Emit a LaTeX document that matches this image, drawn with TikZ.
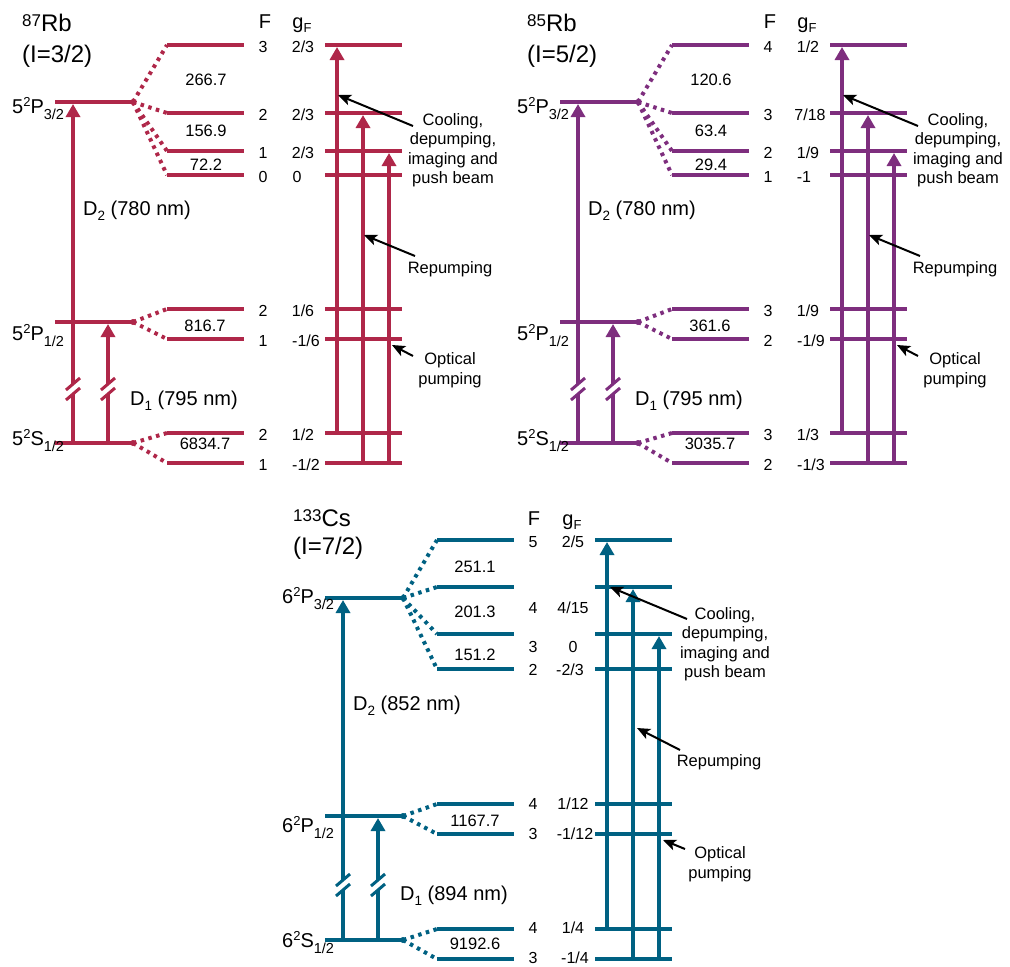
\documentclass[tikz,border=0pt]{standalone}
\usepackage{fontspec}
\setmainfont{Liberation Sans}
\usetikzlibrary{arrows.meta}
\definecolor{rbred}{RGB}{175, 39, 73}
\definecolor{rbpurple}{RGB}{126, 46, 126}
\definecolor{csblue}{RGB}{0, 97, 130}
\newcommand{\titlesup}[1]{\raisebox{5pt}{\fontsize{17}{17}\selectfont #1}}
\newcommand{\levsup}[1]{\raisebox{6.5pt}{\fontsize{13}{13}\selectfont #1}}
\newcommand{\levsub}[1]{\raisebox{-6pt}{\fontsize{14.5}{14.5}\selectfont #1}}
\newcommand{\linesub}[1]{\raisebox{-5pt}{\fontsize{13.5}{13.5}\selectfont #1}}
\newcommand{\gsub}[1]{\raisebox{-4pt}{\fontsize{13}{13}\selectfont #1}}

\tikzset{
  levline/.style={draw=levcol, line width=4pt},
  splitline/.style={draw=levcol, line width=4pt, dash pattern=on 3.5pt off 4.5pt},
  laser/.style={draw=levcol, line width=4pt, -{Triangle[width=14pt,length=13pt]}},
  breakmark/.style={draw=levcol, line width=3pt},
  pointer/.style={draw=black, line width=2pt, -{Stealth[length=13pt,width=11pt,inset=3pt]}},
  isotope/.style={anchor=base west, inner sep=0pt, font=\fontsize{24}{28}\selectfont},
  levlabel/.style={anchor=base west, inner sep=0pt, font=\fontsize{20}{24}\selectfont},
  hfsplit/.style={inner sep=0pt, font=\fontsize{16.5}{20}\selectfont},
  qnum/.style={inner sep=0pt, font=\fontsize{16}{19}\selectfont},
  note/.style={inner sep=0pt, align=center, font=\fontsize{16.5}{19.5}\selectfont},
}

\begin{document}
\begin{tikzpicture}[x=1pt, y=-1pt]
\useasboundingbox (0,0) rectangle (1010,967);

% ---------- 87Rb ----------
\begin{scope}
\colorlet{levcol}{rbred}
\node[isotope] (iso) at (22,31) {\titlesup{87}Rb};
\node[isotope] (spin) at (22,62) {(I=3/2)};

\coordinate (p3l) at (55,102); \coordinate (p3r) at (133,102);
\coordinate (p1l) at (55,322); \coordinate (p1r) at (133,322);
\coordinate (s1l) at (55,443); \coordinate (s1r) at (133,443);
\draw[levline] (p3l) -- (p3r);
\draw[levline] (p1l) -- (p1r);
\draw[levline] (s1l) -- (s1r);
\fill[levcol] (p3r) circle (3pt) (p1r) circle (3pt) (s1r) circle (3pt);
\node[levlabel] (p3lab) at (12,113) {5\levsup{2}P\levsub{3/2}};
\node[levlabel] (p1lab) at (12,340) {5\levsup{2}P\levsub{1/2}};
\node[levlabel] (s1lab) at (12,445) {5\levsup{2}S\levsub{1/2}};

% hyperfine levels
\coordinate (a1) at (167,45);  \coordinate (b1) at (244,45);
\coordinate (a2) at (167,113); \coordinate (b2) at (244,113);
\coordinate (a3) at (167,151); \coordinate (b3) at (244,151);
\coordinate (a4) at (167,175); \coordinate (b4) at (244,175);
\coordinate (a5) at (167,309); \coordinate (b5) at (244,309);
\coordinate (a6) at (167,339); \coordinate (b6) at (244,339);
\coordinate (a7) at (167,433); \coordinate (b7) at (244,433);
\coordinate (a8) at (167,463); \coordinate (b8) at (244,463);
\draw[levline] (a1) -- (b1);
\draw[levline] (a2) -- (b2);
\draw[levline] (a3) -- (b3);
\draw[levline] (a4) -- (b4);
\draw[levline] (a5) -- (b5);
\draw[levline] (a6) -- (b6);
\draw[levline] (a7) -- (b7);
\draw[levline] (a8) -- (b8);
\draw[splitline] (p3r) -- (a1) (p3r) -- (a2) (p3r) -- (a3) (p3r) -- (a4);
\draw[splitline] (p1r) -- (a5) (p1r) -- (a6);
\draw[splitline] (s1r) -- (a7) (s1r) -- (a8);
\node[hfsplit] (gap1) at (206,80) {266.7};
\node[hfsplit] (gap2) at (206,131) {156.9};
\node[hfsplit] (gap3) at (206,165) {72.2};
\node[hfsplit] (gap4) at (205,326) {816.7};
\node[hfsplit] (gap5) at (205,444) {6834.7};

% D lines
\coordinate (d2bot) at (73,443); \coordinate (d2cut) at (73,394);
\coordinate (d2gap) at (73,384); \coordinate (d2top) at (73,104);
\coordinate (d1bot) at (108,443); \coordinate (d1cut) at (108,394);
\coordinate (d1gap) at (108,384); \coordinate (d1top) at (108,324);
\draw[levline] (d2bot) -- (d2cut);
\draw[laser] (d2gap) -- (d2top);
\draw[levline] (d1bot) -- (d1cut);
\draw[laser] (d1gap) -- (d1top);
\draw[breakmark] ([shift={(-7,6)}]d2cut) -- ([shift={(7,-6)}]d2cut);
\draw[breakmark] ([shift={(-7,6)}]d2gap) -- ([shift={(7,-6)}]d2gap);
\draw[breakmark] ([shift={(-7,6)}]d1cut) -- ([shift={(7,-6)}]d1cut);
\draw[breakmark] ([shift={(-7,6)}]d1gap) -- ([shift={(7,-6)}]d1gap);
\node[levlabel] (d2lab) at (83,215) {D\linesub{2} (780 nm)};
\node[levlabel] (d1lab) at (130,405) {D\linesub{1} (795 nm)};

% F and gF
\node[levlabel, anchor=base] (fhead) at (265,28) {F};
\node[levlabel, anchor=base] (ghead) at (302,28) {g\gsub{F}};
\node[qnum] (f1) at (263,47) {3};  \node[qnum] (g1) at (303,47) {2/3};
\node[qnum] (f2) at (263,115) {2}; \node[qnum] (g2) at (303,115) {2/3};
\node[qnum] (f3) at (263,153) {1}; \node[qnum] (g3) at (303,153) {2/3};
\node[qnum] (f4) at (263,177) {0}; \node[qnum] (g4) at (297,177) {0};
\node[qnum] (f5) at (263,311) {2}; \node[qnum] (g5) at (303,311) {1/6};
\node[qnum] (f6) at (263,341) {1}; \node[qnum] (g6) at (306,341) {-1/6};
\node[qnum] (f7) at (263,435) {2}; \node[qnum] (g7) at (303,435) {1/2};
\node[qnum] (f8) at (263,465) {1}; \node[qnum] (g8) at (306,465) {-1/2};

% laser beams
\coordinate (c1) at (325,45);  \coordinate (e1) at (402,45);
\coordinate (c2) at (325,113); \coordinate (e2) at (402,113);
\coordinate (c3) at (325,151); \coordinate (e3) at (402,151);
\coordinate (c4) at (325,175); \coordinate (e4) at (402,175);
\coordinate (c5) at (325,309); \coordinate (e5) at (402,309);
\coordinate (c6) at (325,339); \coordinate (e6) at (402,339);
\coordinate (c7) at (325,433); \coordinate (e7) at (402,433);
\coordinate (c8) at (325,463); \coordinate (e8) at (402,463);
\draw[levline] (c1) -- (e1);
\draw[levline] (c2) -- (e2);
\draw[levline] (c3) -- (e3);
\draw[levline] (c4) -- (e4);
\draw[levline] (c5) -- (e5);
\draw[levline] (c6) -- (e6);
\draw[levline] (c7) -- (e7);
\draw[levline] (c8) -- (e8);
\coordinate (u1bot) at (337,433); \coordinate (u1top) at (337,47);
\coordinate (u2bot) at (363,463); \coordinate (u2top) at (363,115);
\coordinate (u3bot) at (389,463); \coordinate (u3top) at (389,153);
\draw[laser] (u1bot) -- (u1top);
\draw[laser] (u2bot) -- (u2top);
\draw[laser] (u3bot) -- (u3top);

\node[note] (cool) at (453,150) {Cooling,\\depumping,\\imaging and\\push beam};
\node[note] (repump) at (450,269) {Repumping};
\node[note] (optic) at (450,370) {Optical\\pumping};
\coordinate (cooltail) at (413,126); \coordinate (cooltip) at (338,95);
\coordinate (reptail) at (415,256); \coordinate (reptip) at (364,235);
\coordinate (opttail) at (413,356); \coordinate (opttip) at (392,345);
\draw[pointer] (cooltail) -- (cooltip);
\draw[pointer] (reptail) -- (reptip);
\draw[pointer] (opttail) -- (opttip);
\end{scope}

% ---------- 85Rb ----------
\begin{scope}[shift={(505,0)}]
\colorlet{levcol}{rbpurple}
\node[isotope] (iso) at (22,31) {\titlesup{85}Rb};
\node[isotope] (spin) at (22,62) {(I=5/2)};

\coordinate (p3l) at (55,102); \coordinate (p3r) at (133,102);
\coordinate (p1l) at (55,322); \coordinate (p1r) at (133,322);
\coordinate (s1l) at (55,443); \coordinate (s1r) at (133,443);
\draw[levline] (p3l) -- (p3r);
\draw[levline] (p1l) -- (p1r);
\draw[levline] (s1l) -- (s1r);
\fill[levcol] (p3r) circle (3pt) (p1r) circle (3pt) (s1r) circle (3pt);
\node[levlabel] (p3lab) at (12,113) {5\levsup{2}P\levsub{3/2}};
\node[levlabel] (p1lab) at (12,340) {5\levsup{2}P\levsub{1/2}};
\node[levlabel] (s1lab) at (12,445) {5\levsup{2}S\levsub{1/2}};

% hyperfine levels
\coordinate (a1) at (167,45);  \coordinate (b1) at (244,45);
\coordinate (a2) at (167,113); \coordinate (b2) at (244,113);
\coordinate (a3) at (167,151); \coordinate (b3) at (244,151);
\coordinate (a4) at (167,175); \coordinate (b4) at (244,175);
\coordinate (a5) at (167,309); \coordinate (b5) at (244,309);
\coordinate (a6) at (167,339); \coordinate (b6) at (244,339);
\coordinate (a7) at (167,433); \coordinate (b7) at (244,433);
\coordinate (a8) at (167,463); \coordinate (b8) at (244,463);
\draw[levline] (a1) -- (b1);
\draw[levline] (a2) -- (b2);
\draw[levline] (a3) -- (b3);
\draw[levline] (a4) -- (b4);
\draw[levline] (a5) -- (b5);
\draw[levline] (a6) -- (b6);
\draw[levline] (a7) -- (b7);
\draw[levline] (a8) -- (b8);
\draw[splitline] (p3r) -- (a1) (p3r) -- (a2) (p3r) -- (a3) (p3r) -- (a4);
\draw[splitline] (p1r) -- (a5) (p1r) -- (a6);
\draw[splitline] (s1r) -- (a7) (s1r) -- (a8);
\node[hfsplit] (gap1) at (206,80) {120.6};
\node[hfsplit] (gap2) at (206,131) {63.4};
\node[hfsplit] (gap3) at (206,165) {29.4};
\node[hfsplit] (gap4) at (205,326) {361.6};
\node[hfsplit] (gap5) at (205,444) {3035.7};

% D lines
\coordinate (d2bot) at (73,443); \coordinate (d2cut) at (73,394);
\coordinate (d2gap) at (73,384); \coordinate (d2top) at (73,104);
\coordinate (d1bot) at (108,443); \coordinate (d1cut) at (108,394);
\coordinate (d1gap) at (108,384); \coordinate (d1top) at (108,324);
\draw[levline] (d2bot) -- (d2cut);
\draw[laser] (d2gap) -- (d2top);
\draw[levline] (d1bot) -- (d1cut);
\draw[laser] (d1gap) -- (d1top);
\draw[breakmark] ([shift={(-7,6)}]d2cut) -- ([shift={(7,-6)}]d2cut);
\draw[breakmark] ([shift={(-7,6)}]d2gap) -- ([shift={(7,-6)}]d2gap);
\draw[breakmark] ([shift={(-7,6)}]d1cut) -- ([shift={(7,-6)}]d1cut);
\draw[breakmark] ([shift={(-7,6)}]d1gap) -- ([shift={(7,-6)}]d1gap);
\node[levlabel] (d2lab) at (83,215) {D\linesub{2} (780 nm)};
\node[levlabel] (d1lab) at (130,405) {D\linesub{1} (795 nm)};

% F and gF
\node[levlabel, anchor=base] (fhead) at (265,28) {F};
\node[levlabel, anchor=base] (ghead) at (302,28) {g\gsub{F}};
\node[qnum] (f1) at (263,47) {4};  \node[qnum] (g1) at (303,47) {1/2};
\node[qnum] (f2) at (263,115) {3}; \node[qnum] (g2) at (305,115) {7/18};
\node[qnum] (f3) at (263,153) {2}; \node[qnum] (g3) at (303,153) {1/9};
\node[qnum] (f4) at (263,177) {1}; \node[qnum] (g4) at (299,177) {-1};
\node[qnum] (f5) at (263,311) {3}; \node[qnum] (g5) at (303,311) {1/9};
\node[qnum] (f6) at (263,341) {2}; \node[qnum] (g6) at (306,341) {-1/9};
\node[qnum] (f7) at (263,435) {3}; \node[qnum] (g7) at (303,435) {1/3};
\node[qnum] (f8) at (263,465) {2}; \node[qnum] (g8) at (306,465) {-1/3};

% laser beams
\coordinate (c1) at (325,45);  \coordinate (e1) at (402,45);
\coordinate (c2) at (325,113); \coordinate (e2) at (402,113);
\coordinate (c3) at (325,151); \coordinate (e3) at (402,151);
\coordinate (c4) at (325,175); \coordinate (e4) at (402,175);
\coordinate (c5) at (325,309); \coordinate (e5) at (402,309);
\coordinate (c6) at (325,339); \coordinate (e6) at (402,339);
\coordinate (c7) at (325,433); \coordinate (e7) at (402,433);
\coordinate (c8) at (325,463); \coordinate (e8) at (402,463);
\draw[levline] (c1) -- (e1);
\draw[levline] (c2) -- (e2);
\draw[levline] (c3) -- (e3);
\draw[levline] (c4) -- (e4);
\draw[levline] (c5) -- (e5);
\draw[levline] (c6) -- (e6);
\draw[levline] (c7) -- (e7);
\draw[levline] (c8) -- (e8);
\coordinate (u1bot) at (337,433); \coordinate (u1top) at (337,47);
\coordinate (u2bot) at (363,463); \coordinate (u2top) at (363,115);
\coordinate (u3bot) at (389,463); \coordinate (u3top) at (389,153);
\draw[laser] (u1bot) -- (u1top);
\draw[laser] (u2bot) -- (u2top);
\draw[laser] (u3bot) -- (u3top);

\node[note] (cool) at (453,150) {Cooling,\\depumping,\\imaging and\\push beam};
\node[note] (repump) at (450,269) {Repumping};
\node[note] (optic) at (450,370) {Optical\\pumping};
\coordinate (cooltail) at (413,126); \coordinate (cooltip) at (338,95);
\coordinate (reptail) at (415,256); \coordinate (reptip) at (364,235);
\coordinate (opttail) at (413,356); \coordinate (opttip) at (392,345);
\draw[pointer] (cooltail) -- (cooltip);
\draw[pointer] (reptail) -- (reptip);
\draw[pointer] (opttail) -- (opttip);
\end{scope}

% ---------- 133Cs ----------
\begin{scope}[shift={(270,496)}]
\colorlet{levcol}{csblue}
\node[isotope] (iso) at (23,30) {\titlesup{133}Cs};
\node[isotope] (spin) at (23,58) {(I=7/2)};

\coordinate (p3l) at (55,102); \coordinate (p3r) at (133,102);
\coordinate (p1l) at (55,320); \coordinate (p1r) at (133,320);
\coordinate (s1l) at (55,444); \coordinate (s1r) at (133,444);
\draw[levline] (p3l) -- (p3r);
\draw[levline] (p1l) -- (p1r);
\draw[levline] (s1l) -- (s1r);
\fill[levcol] (p3r) circle (3pt) (p1r) circle (3pt) (s1r) circle (3pt);
\node[levlabel] (p3lab) at (12,107) {6\levsup{2}P\levsub{3/2}};
\node[levlabel] (p1lab) at (12,336) {6\levsup{2}P\levsub{1/2}};
\node[levlabel] (s1lab) at (12,451) {6\levsup{2}S\levsub{1/2}};

% hyperfine levels
\coordinate (a1) at (167,44);  \coordinate (b1) at (244,44);
\coordinate (a2) at (167,91);  \coordinate (b2) at (244,91);
\coordinate (a3) at (167,138); \coordinate (b3) at (244,138);
\coordinate (a4) at (167,173); \coordinate (b4) at (244,173);
\coordinate (a5) at (167,308); \coordinate (b5) at (244,308);
\coordinate (a6) at (167,338); \coordinate (b6) at (244,338);
\coordinate (a7) at (167,433); \coordinate (b7) at (244,433);
\coordinate (a8) at (167,463); \coordinate (b8) at (244,463);
\draw[levline] (a1) -- (b1);
\draw[levline] (a2) -- (b2);
\draw[levline] (a3) -- (b3);
\draw[levline] (a4) -- (b4);
\draw[levline] (a5) -- (b5);
\draw[levline] (a6) -- (b6);
\draw[levline] (a7) -- (b7);
\draw[levline] (a8) -- (b8);
\draw[splitline] (p3r) -- (a1) (p3r) -- (a2) (p3r) -- (a3) (p3r) -- (a4);
\draw[splitline] (p1r) -- (a5) (p1r) -- (a6);
\draw[splitline] (s1r) -- (a7) (s1r) -- (a8);
\node[hfsplit] (gap1) at (205,71) {251.1};
\node[hfsplit] (gap2) at (205,116) {201.3};
\node[hfsplit] (gap3) at (205,159) {151.2};
\node[hfsplit] (gap4) at (205,325) {1167.7};
\node[hfsplit] (gap5) at (205,448) {9192.6};

% D lines
\coordinate (d2bot) at (73,444); \coordinate (d2cut) at (73,394);
\coordinate (d2gap) at (73,384); \coordinate (d2top) at (73,104);
\coordinate (d1bot) at (108,444); \coordinate (d1cut) at (108,394);
\coordinate (d1gap) at (108,384); \coordinate (d1top) at (108,322);
\draw[levline] (d2bot) -- (d2cut);
\draw[laser] (d2gap) -- (d2top);
\draw[levline] (d1bot) -- (d1cut);
\draw[laser] (d1gap) -- (d1top);
\draw[breakmark] ([shift={(-7,6)}]d2cut) -- ([shift={(7,-6)}]d2cut);
\draw[breakmark] ([shift={(-7,6)}]d2gap) -- ([shift={(7,-6)}]d2gap);
\draw[breakmark] ([shift={(-7,6)}]d1cut) -- ([shift={(7,-6)}]d1cut);
\draw[breakmark] ([shift={(-7,6)}]d1gap) -- ([shift={(7,-6)}]d1gap);
\node[levlabel] (d2lab) at (83,214) {D\linesub{2} (852 nm)};
\node[levlabel] (d1lab) at (130,404) {D\linesub{1} (894 nm)};

% F and gF
\node[levlabel, anchor=base] (fhead) at (264,29) {F};
\node[levlabel, anchor=base] (ghead) at (302,29) {g\gsub{F}};
\node[qnum] (f1) at (263,46) {5};  \node[qnum] (g1) at (303,46) {2/5};
\node[qnum] (f2) at (263,112) {4}; \node[qnum] (g2) at (303,112) {4/15};
\node[qnum] (f3) at (263,151) {3}; \node[qnum] (g3) at (303,151) {0};
\node[qnum] (f4) at (263,174) {2}; \node[qnum] (g4) at (300,174) {-2/3};
\node[qnum] (f5) at (263,308) {4}; \node[qnum] (g5) at (303,308) {1/12};
\node[qnum] (f6) at (263,338) {3}; \node[qnum] (g6) at (305,338) {-1/12};
\node[qnum] (f7) at (263,432) {4}; \node[qnum] (g7) at (303,432) {1/4};
\node[qnum] (f8) at (263,462) {3}; \node[qnum] (g8) at (305,462) {-1/4};

% laser beams
\coordinate (c1) at (325,44);  \coordinate (e1) at (402,44);
\coordinate (c2) at (325,91);  \coordinate (e2) at (402,91);
\coordinate (c3) at (325,138); \coordinate (e3) at (402,138);
\coordinate (c4) at (325,173); \coordinate (e4) at (402,173);
\coordinate (c5) at (325,308); \coordinate (e5) at (402,308);
\coordinate (c6) at (325,338); \coordinate (e6) at (402,338);
\coordinate (c7) at (325,433); \coordinate (e7) at (402,433);
\coordinate (c8) at (325,463); \coordinate (e8) at (402,463);
\draw[levline] (c1) -- (e1);
\draw[levline] (c2) -- (e2);
\draw[levline] (c3) -- (e3);
\draw[levline] (c4) -- (e4);
\draw[levline] (c5) -- (e5);
\draw[levline] (c6) -- (e6);
\draw[levline] (c7) -- (e7);
\draw[levline] (c8) -- (e8);
\coordinate (u1bot) at (337,433); \coordinate (u1top) at (337,46);
\coordinate (u2bot) at (363,463); \coordinate (u2top) at (363,93);
\coordinate (u3bot) at (389,463); \coordinate (u3top) at (389,140);
\draw[laser] (u1bot) -- (u1top);
\draw[laser] (u2bot) -- (u2top);
\draw[laser] (u3bot) -- (u3top);

\node[note] (cool) at (455,148) {Cooling,\\depumping,\\imaging and\\push beam};
\node[note] (repump) at (449,266) {Repumping};
\node[note] (optic) at (450,368) {Optical\\pumping};
\coordinate (cooltail) at (417,123); \coordinate (cooltip) at (340,91);
\coordinate (reptail) at (410,254); \coordinate (reptip) at (367,232);
\coordinate (opttail) at (415,353); \coordinate (opttip) at (393,344);
\draw[pointer] (cooltail) -- (cooltip);
\draw[pointer] (reptail) -- (reptip);
\draw[pointer] (opttail) -- (opttip);
\end{scope}

\end{tikzpicture}
\end{document}
